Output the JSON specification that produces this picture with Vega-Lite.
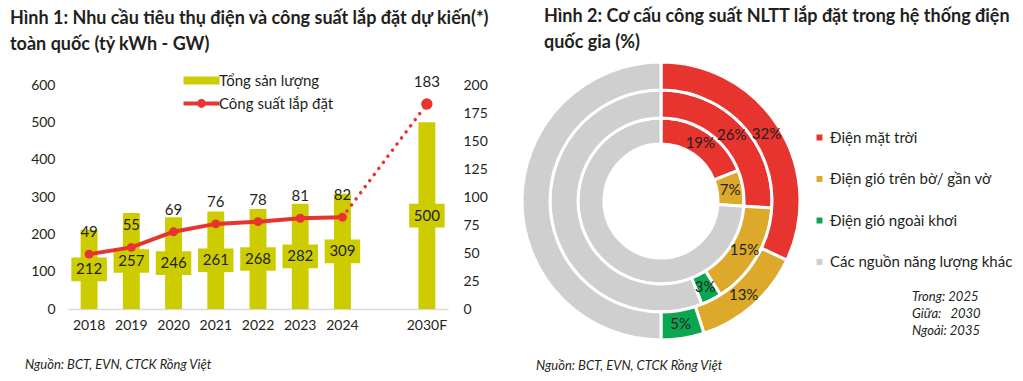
{
  "$schema": "https://vega.github.io/schema/vega-lite/v6.json",
  "background": "white",
  "padding": {"left": 10, "top": 8, "right": 0, "bottom": 0},
  "config": {
    "view": {"stroke": null},
    "font": "Lato",
    "text": {"color": "#231f20"},
    "axis": {"labelColor": "#231f20", "labelFont": "Lato"},
    "legend": {"labelColor": "#231f20", "labelFont": "Lato"},
    "title": {"color": "#231f20", "font": "Lato"}
  },
  "spacing": 26,
  "resolve": {
    "scale": {"color": "independent", "opacity": "independent"},
    "legend": {"color": "independent", "opacity": "independent"}
  },
  "hconcat": [
    {
      "title": {
        "text": ["Hình 1: Nhu cầu tiêu thụ điện và công suất lắp đặt dự kiến(*)", "toàn quốc (tỷ kWh - GW)"],
        "anchor": "start", "frame": "group", "dx": -58, "dy": -1, "offset": 18,
        "fontSize": 18, "fontWeight": "bold", "lineHeight": 26
      },
      "vconcat": [
        {
          "width": 380,
          "height": 224,
          "title": {
            "text": "Nguồn: BCT, EVN, CTCK Rồng Việt",
            "orient": "bottom", "anchor": "start", "frame": "group", "dx": -43, "offset": 27,
            "fontSize": 13, "fontStyle": "italic", "fontWeight": "normal"
          },
          "data": {
            "values": [
              {"nam": "2018", "san_luong": 212, "cong_suat": 49},
              {"nam": "2019", "san_luong": 257, "cong_suat": 55},
              {"nam": "2020", "san_luong": 246, "cong_suat": 69},
              {"nam": "2021", "san_luong": 261, "cong_suat": 76},
              {"nam": "2022", "san_luong": 268, "cong_suat": 78},
              {"nam": "2023", "san_luong": 282, "cong_suat": 81},
              {"nam": "2024", "san_luong": 309, "cong_suat": 82},
              {"nam": "2030F", "san_luong": 500, "cong_suat": 183}
            ]
          },
          "encoding": {
            "x": {
              "field": "nam", "type": "nominal",
              "scale": {"domain": ["2018", "2019", "2020", "2021", "2022", "2023", "2024", " ", "2030F"], "paddingInner": 0.6, "paddingOuter": 0.3},
              "axis": {"title": null, "labelAngle": 0, "ticks": false, "domainColor": "#d9d9d9", "domainWidth": 1.5, "labelFontSize": 14, "labelPadding": 9}
            }
          },
          "resolve": {"scale": {"y": "independent"}},
          "layer": [
            {
              "mark": {"type": "bar"},
              "encoding": {
                "y": {
                  "field": "san_luong", "type": "quantitative",
                  "scale": {"domain": [0, 600]},
                  "axis": {"orient": "left", "values": [0, 100, 200, 300, 400, 500, 600], "domain": false, "ticks": false, "grid": false, "labelFontSize": 14, "labelPadding": 13, "title": null}
                },
                "color": {
                  "datum": "Tổng sản lượng", "type": "nominal",
                  "scale": {"domain": ["Tổng sản lượng", "Công suất lắp đặt"], "range": ["#cccc00", "#e8342e"]},
                  "legend": {
                    "orient": "none", "legendX": 126, "legendY": -12, "title": null,
                    "labelFontSize": 15, "rowPadding": 7, "labelOffset": 10, "symbolSize": 64,
                    "encode": {
                      "symbols": {
                        "update": {
                          "shape": {"signal": "datum.value === 'Tổng sản lượng' ? 'M-4.5,-1H4.5V1H-4.5Z' : 'M-4.5,-0.5H4.5V0.5H-4.5Z M-1.1,0A1.1,1.1 0 1,1 1.1,0A1.1,1.1 0 1,1 -1.1,0Z'"},
                          "fill": {"signal": "datum.value === 'Tổng sản lượng' ? '#cccc00' : '#e8342e'"},
                          "stroke": {"value": "transparent"},
                          "strokeWidth": {"value": 0},
                          "opacity": {"value": 1}
                        }
                      }
                    }
                  }
                }
              }
            },
            {
              "mark": {"type": "point", "filled": true, "shape": "M-1.5,-1H1.5V1H-1.5Z", "size": 560, "color": "#cccc00", "opacity": 1},
              "encoding": {
                "y": {"field": "san_luong", "type": "quantitative", "scale": {"domain": [0, 1200]}, "axis": null}
              }
            },
            {
              "mark": {"type": "text", "fontSize": 15},
              "encoding": {
                "y": {"field": "san_luong", "type": "quantitative", "scale": {"domain": [0, 1200]}, "axis": null},
                "text": {"field": "san_luong", "type": "quantitative"}
              }
            },
            {
              "transform": [{"filter": "datum.nam !== '2030F'"}],
              "mark": {"type": "line", "strokeWidth": 4},
              "encoding": {
                "y": {
                  "field": "cong_suat", "type": "quantitative",
                  "scale": {"domain": [0, 200]},
                  "axis": {"orient": "right", "values": [0, 25, 50, 75, 100, 125, 150, 175, 200], "domain": false, "ticks": false, "grid": false, "labelFontSize": 14, "labelPadding": 15, "title": null}
                },
                "color": {"datum": "Công suất lắp đặt", "type": "nominal"}
              }
            },
            {
              "transform": [{"filter": "datum.nam === '2024' || datum.nam === '2030F'"}],
              "mark": {"type": "line", "strokeWidth": 3.5, "strokeDash": [0.1, 7.5], "strokeCap": "round", "color": "#e8342e"},
              "encoding": {
                "y": {"field": "cong_suat", "type": "quantitative", "scale": {"domain": [0, 200]}, "axis": null}
              }
            },
            {
              "mark": {"type": "point", "filled": true, "color": "#e8342e", "opacity": 1},
              "encoding": {
                "y": {"field": "cong_suat", "type": "quantitative", "scale": {"domain": [0, 200]}, "axis": null},
                "size": {"condition": {"test": "datum.nam === '2030F'", "value": 130}, "value": 80}
              }
            },
            {
              "mark": {"type": "text", "fontSize": 15, "dy": -22},
              "encoding": {
                "y": {"field": "cong_suat", "type": "quantitative", "scale": {"domain": [0, 200]}, "axis": null},
                "text": {"field": "cong_suat", "type": "quantitative"}
              }
            }
          ]
        }
      ]
    },
    {
      "title": {
        "text": ["Hình 2: Cơ cấu công suất NLTT lắp đặt trong hệ thống điện", "quốc gia (%)"],
        "anchor": "start", "frame": "group", "dx": -1, "dy": 14, "offset": 18,
        "fontSize": 18, "fontWeight": "bold", "lineHeight": 26
      },
      "vconcat": [
        {
          "width": 232,
          "height": 232,
          "title": {
            "text": "Nguồn: BCT, EVN, CTCK Rồng Việt",
            "orient": "bottom", "anchor": "start", "frame": "group", "dx": -9, "offset": 14,
            "fontSize": 13, "fontStyle": "italic", "fontWeight": "normal"
          },
          "data": {
            "values": [
              {"nam": "2025", "nguon": "Điện mặt trời", "idx": 1, "ty_le": 0.19},
              {"nam": "2025", "nguon": "Điện gió trên bờ/ gần vờ", "idx": 2, "ty_le": 0.07},
              {"nam": "2025", "nguon": "Điện gió ngoài khơi", "idx": 3, "ty_le": 0},
              {"nam": "2025", "nguon": "Các nguồn năng lượng khác", "idx": 4, "ty_le": 0.74},
              {"nam": "2030", "nguon": "Điện mặt trời", "idx": 1, "ty_le": 0.26},
              {"nam": "2030", "nguon": "Điện gió trên bờ/ gần vờ", "idx": 2, "ty_le": 0.15},
              {"nam": "2030", "nguon": "Điện gió ngoài khơi", "idx": 3, "ty_le": 0.03},
              {"nam": "2030", "nguon": "Các nguồn năng lượng khác", "idx": 4, "ty_le": 0.56},
              {"nam": "2035", "nguon": "Điện mặt trời", "idx": 1, "ty_le": 0.32},
              {"nam": "2035", "nguon": "Điện gió trên bờ/ gần vờ", "idx": 2, "ty_le": 0.13},
              {"nam": "2035", "nguon": "Điện gió ngoài khơi", "idx": 3, "ty_le": 0.05},
              {"nam": "2035", "nguon": "Các nguồn năng lượng khác", "idx": 4, "ty_le": 0.50}
            ]
          },
          "encoding": {
            "theta": {"field": "ty_le", "type": "quantitative", "stack": true},
            "order": {"field": "idx", "type": "quantitative"}
          },
          "layer": [
            {
              "transform": [{"filter": "datum.nam === '2025' && datum.ty_le > 0"}],
              "mark": {"type": "arc", "radius": 83, "radius2": 57, "stroke": "white", "strokeWidth": 3},
              "encoding": {
                "color": {
                  "field": "nguon", "type": "nominal",
                  "scale": {"domain": ["Điện mặt trời", "Điện gió trên bờ/ gần vờ", "Điện gió ngoài khơi", "Các nguồn năng lượng khác"], "range": ["#e8342e", "#dca92b", "#0aa650", "#cfcfcf"]},
                  "legend": {"orient": "none", "legendX": 267, "legendY": 45, "title": null, "symbolType": "square", "symbolSize": 55, "labelFontSize": 15, "rowPadding": 25.5, "labelOffset": 3, "labelLimit": 400}
                },
                "opacity": {
                  "field": "nam", "type": "ordinal",
                  "scale": {"domain": ["2025", "2030", "2035"], "range": [1, 1]},
                  "legend": {
                    "orient": "none", "legendX": 355, "legendY": 205, "title": null,
                    "symbolType": "M0,0", "symbolSize": 1, "symbolOpacity": 0, "symbolStrokeWidth": 0, "labelOffset": -1, "rowPadding": 3,
                    "labelFontSize": 13, "labelFontStyle": "italic", "labelAlign": "left",
                    "labelExpr": "datum.label === '2025' ? 'Trong: 2025' : datum.label === '2030' ? 'Giữa:\u00a0\u00a0\u00a02030' : 'Ngoài: 2035'",
                    "encode": {
                      "labels": {"update": {"align": {"value": "left"}}},
                      "symbols": {"update": {"opacity": {"value": 0}, "fillOpacity": {"value": 0}, "strokeOpacity": {"value": 0}, "fill": {"value": "transparent"}, "stroke": {"value": "transparent"}}}
                    }
                  }
                }
              }
            },
            {
              "transform": [{"filter": "datum.nam === '2030' && datum.ty_le > 0"}],
              "mark": {"type": "arc", "radius": 111, "radius2": 83, "stroke": "white", "strokeWidth": 3},
              "encoding": {
                "color": {"field": "nguon", "type": "nominal"},
                "opacity": {"field": "nam", "type": "ordinal"}
              }
            },
            {
              "transform": [{"filter": "datum.nam === '2035' && datum.ty_le > 0"}],
              "mark": {"type": "arc", "radius": 139, "radius2": 111, "stroke": "white", "strokeWidth": 3},
              "encoding": {
                "color": {"field": "nguon", "type": "nominal"},
                "opacity": {"field": "nam", "type": "ordinal"}
              }
            },
            {
              "transform": [{"filter": "datum.nam === '2025'"}],
              "mark": {"type": "text", "radius": 70, "fontSize": 15},
              "encoding": {
                "text": {"condition": {"test": "datum.idx < 4 && datum.ty_le > 0", "field": "ty_le", "type": "quantitative", "format": ".0%"}, "value": ""}
              }
            },
            {
              "transform": [{"filter": "datum.nam === '2030'"}],
              "mark": {"type": "text", "radius": 97, "fontSize": 15},
              "encoding": {
                "text": {"condition": {"test": "datum.idx < 4 && datum.ty_le > 0", "field": "ty_le", "type": "quantitative", "format": ".0%"}, "value": ""}
              }
            },
            {
              "transform": [{"filter": "datum.nam === '2035'"}],
              "mark": {"type": "text", "radius": 125, "fontSize": 15},
              "encoding": {
                "text": {"condition": {"test": "datum.idx < 4 && datum.ty_le > 0", "field": "ty_le", "type": "quantitative", "format": ".0%"}, "value": ""}
              }
            }
          ]
        }
      ]
    }
  ]
}
